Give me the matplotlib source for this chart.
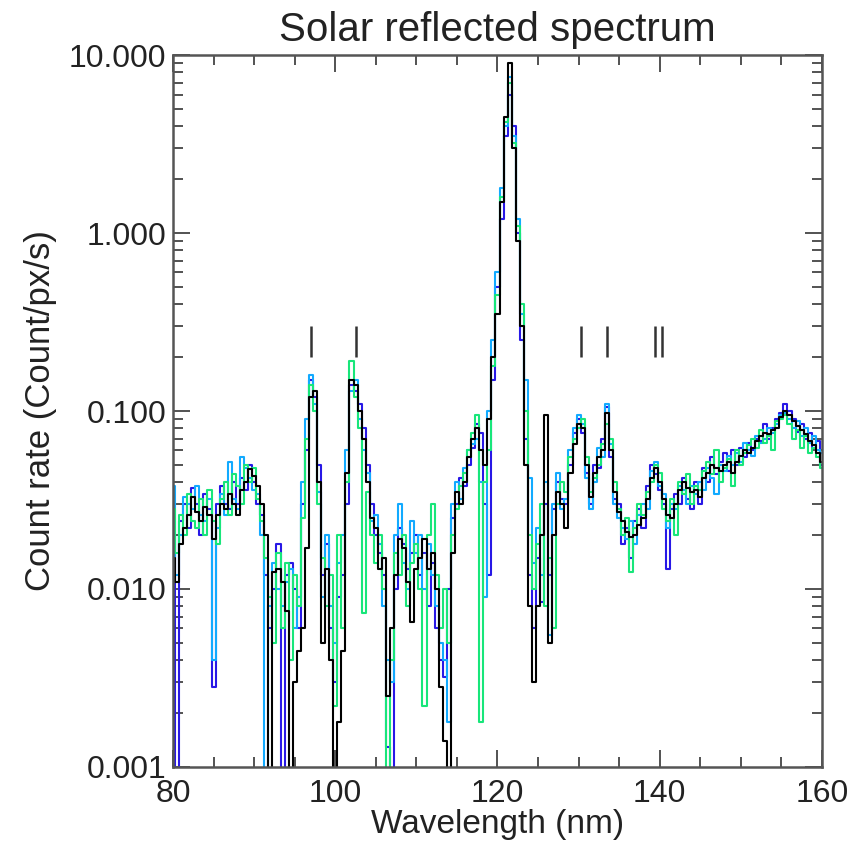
import numpy as np
import matplotlib
matplotlib.use("Agg")
import matplotlib.pyplot as plt
from matplotlib.ticker import MultipleLocator, FixedLocator, FuncFormatter, NullFormatter

plt.rcParams['font.family'] = ['Liberation Sans', 'DejaVu Sans']

# wavelength grid (nm), 0.5 nm bins
wl_start, wl_step, n_bins = 80.0, 0.5, 161
wavelength = wl_start + wl_step * np.arange(n_bins)

# count rates (Count/px/s)
black = [
    0.015, 0.011, 0.018, 0.022, 0.026, 0.033, 0.027, 0.024, 0.029, 0.026,   # 80-84.5
    0.019, 0.026, 0.030, 0.028, 0.034, 0.030, 0.026, 0.036, 0.040, 0.047,   # 85-89.5
    0.043, 0.038, 0.030, 0.020, 0.0008, 0.0125, 0.013, 0.011, 0.0075, 0.0008,  # 90-94.5
    0.003, 0.0045, 0.006, 0.017, 0.12, 0.13, 0.04, 0.005, 0.013, 0.004,     # 95-99.5
    0.0007, 0.0018, 0.0045, 0.045, 0.15, 0.14, 0.10, 0.07, 0.04, 0.025,     # 100-104.5
    0.022, 0.013, 0.015, 0.0025, 0.006, 0.012, 0.019, 0.017, 0.011, 0.0065,  # 105-109.5
    0.013, 0.015, 0.019, 0.013, 0.016, 0.010, 0.0028, 0.0014, 0.0008, 0.016,  # 110-114.5
    0.035, 0.030, 0.040, 0.055, 0.070, 0.080, 0.060, 0.050, 0.090, 0.20,    # 115-119.5
    0.35, 1.5, 4.5, 9.0, 3.0, 0.9, 0.30, 0.05, 0.008, 0.003,                # 120-124.5
    0.008, 0.020, 0.095, 0.005, 0.020, 0.035, 0.030, 0.022, 0.045, 0.065,   # 125-129.5
    0.085, 0.080, 0.050, 0.033, 0.045, 0.055, 0.060, 0.098, 0.060, 0.035,   # 130-134.5
    0.027, 0.024, 0.021, 0.0195, 0.020, 0.023, 0.025, 0.032, 0.042, 0.048,  # 135-139.5
    0.040, 0.032, 0.026, 0.025, 0.030, 0.036, 0.040, 0.037, 0.035, 0.036,   # 140-144.5
    0.033, 0.042, 0.045, 0.050, 0.048, 0.046, 0.050, 0.052, 0.045, 0.052,   # 145-149.5
    0.056, 0.060, 0.058, 0.062, 0.068, 0.072, 0.075, 0.074, 0.078, 0.080,   # 150-154.5
    0.092, 0.100, 0.095, 0.088, 0.082, 0.078, 0.074, 0.068, 0.064, 0.058,   # 155-159.5
    0.052,
]

blue = [
    0.020, 0.0006, 0.024, 0.030, 0.022, 0.037, 0.030, 0.020, 0.034, 0.028,
    0.0028, 0.030, 0.038, 0.030, 0.028, 0.040, 0.030, 0.042, 0.036, 0.050,
    0.040, 0.030, 0.026, 0.012, 0.006, 0.010, 0.018, 0.0007, 0.012, 0.014,
    0.010, 0.006, 0.030, 0.060, 0.15, 0.12, 0.05, 0.012, 0.018, 0.006,
    0.003, 0.009, 0.012, 0.030, 0.14, 0.13, 0.11, 0.08, 0.05, 0.030,
    0.020, 0.016, 0.012, 0.0013, 0.0009, 0.010, 0.022, 0.018, 0.013, 0.016,
    0.020, 0.012, 0.016, 0.008, 0.014, 0.006, 0.004, 0.0032, 0.010, 0.025,
    0.030, 0.042, 0.038, 0.050, 0.062, 0.085, 0.075, 0.030, 0.012, 0.15,
    0.50, 1.2, 3.5, 6.0, 4.0, 1.0, 0.25, 0.07, 0.012, 0.006,
    0.015, 0.0085, 0.030, 0.012, 0.028, 0.040, 0.032, 0.030, 0.050, 0.075,
    0.090, 0.075, 0.045, 0.030, 0.050, 0.048, 0.070, 0.105, 0.055, 0.032,
    0.030, 0.018, 0.022, 0.015, 0.024, 0.028, 0.022, 0.038, 0.050, 0.044,
    0.036, 0.030, 0.013, 0.028, 0.034, 0.030, 0.042, 0.032, 0.028, 0.040,
    0.030, 0.048, 0.040, 0.055, 0.044, 0.052, 0.058, 0.046, 0.060, 0.050,
    0.062, 0.055, 0.066, 0.060, 0.070, 0.068, 0.085, 0.070, 0.080, 0.090,
    0.098, 0.110, 0.100, 0.090, 0.076, 0.085, 0.070, 0.075, 0.062, 0.068,
    0.050,
]

light_blue = [
    0.038, 0.012, 0.020, 0.033, 0.030, 0.028, 0.038, 0.026, 0.024, 0.032,
    0.004, 0.022, 0.034, 0.026, 0.052, 0.032, 0.028, 0.055, 0.048, 0.042,
    0.036, 0.034, 0.020, 0.0006, 0.008, 0.014, 0.010, 0.008, 0.011, 0.013,
    0.006, 0.009, 0.040, 0.090, 0.16, 0.11, 0.035, 0.009, 0.020, 0.008,
    0.005, 0.014, 0.020, 0.060, 0.13, 0.15, 0.09, 0.06, 0.045, 0.024,
    0.026, 0.018, 0.008, 0.004, 0.003, 0.020, 0.030, 0.014, 0.010, 0.024,
    0.016, 0.020, 0.010, 0.018, 0.012, 0.008, 0.005, 0.004, 0.0018, 0.030,
    0.040, 0.032, 0.048, 0.060, 0.065, 0.070, 0.040, 0.009, 0.10, 0.25,
    0.60, 1.8, 4.0, 7.5, 3.5, 1.2, 0.35, 0.15, 0.042, 0.014,
    0.022, 0.012, 0.040, 0.0055, 0.030, 0.045, 0.028, 0.032, 0.060, 0.080,
    0.095, 0.085, 0.042, 0.028, 0.040, 0.062, 0.055, 0.11, 0.065, 0.030,
    0.025, 0.022, 0.019, 0.024, 0.018, 0.026, 0.030, 0.028, 0.046, 0.052,
    0.038, 0.034, 0.022, 0.030, 0.028, 0.038, 0.036, 0.030, 0.038, 0.034,
    0.040, 0.036, 0.048, 0.042, 0.034, 0.050, 0.046, 0.056, 0.050, 0.058,
    0.052, 0.066, 0.060, 0.056, 0.072, 0.066, 0.070, 0.080, 0.075, 0.085,
    0.095, 0.098, 0.090, 0.080, 0.088, 0.072, 0.080, 0.066, 0.072, 0.060,
    0.058,
]

green = [
    0.028, 0.016, 0.026, 0.020, 0.034, 0.024, 0.022, 0.032, 0.020, 0.036,
    0.024, 0.018, 0.032, 0.040, 0.026, 0.044, 0.038, 0.030, 0.050, 0.040,
    0.048, 0.032, 0.024, 0.015, 0.009, 0.005, 0.016, 0.006, 0.014, 0.004,
    0.012, 0.008, 0.025, 0.070, 0.14, 0.10, 0.030, 0.015, 0.008, 0.012,
    0.0022, 0.020, 0.006, 0.040, 0.19, 0.12, 0.08, 0.0073, 0.035, 0.020,
    0.014, 0.020, 0.010, 0.0006, 0.004, 0.016, 0.012, 0.020, 0.008, 0.014,
    0.018, 0.010, 0.0022, 0.020, 0.030, 0.012, 0.006, 0.010, 0.005, 0.020,
    0.028, 0.038, 0.045, 0.060, 0.075, 0.095, 0.0018, 0.040, 0.060, 0.18,
    0.45, 1.6, 4.2, 7.0, 3.2, 1.1, 0.40, 0.10, 0.020, 0.010,
    0.018, 0.030, 0.008, 0.015, 0.006, 0.030, 0.040, 0.035, 0.055, 0.070,
    0.080, 0.090, 0.055, 0.035, 0.042, 0.050, 0.065, 0.085, 0.070, 0.040,
    0.028, 0.020, 0.025, 0.0125, 0.022, 0.030, 0.026, 0.035, 0.040, 0.050,
    0.045, 0.028, 0.024, 0.032, 0.020, 0.040, 0.034, 0.044, 0.030, 0.038,
    0.036, 0.046, 0.052, 0.044, 0.060, 0.040, 0.048, 0.054, 0.038, 0.060,
    0.050, 0.058, 0.064, 0.070, 0.062, 0.078, 0.066, 0.072, 0.060, 0.088,
    0.090, 0.095, 0.085, 0.070, 0.078, 0.062, 0.072, 0.058, 0.062, 0.055,
    0.048,
]

# emission line markers
line_wl = [97.0, 102.5, 130.3, 133.5, 139.4, 140.3]
marker_lo, marker_hi = 0.2, 0.3

fig = plt.figure(figsize=(8.54, 8.49), dpi=100)
ax = fig.add_axes([0.2026, 0.0966, 0.7599, 0.8386])

series = [(blue, '#2818e6'), (light_blue, '#12aaff'), (green, '#18e67a'), (black, 'black')]
for vals, col in series:
    ax.step(wavelength, vals, where='mid', color=col, lw=1.5)

ax.vlines(line_wl, marker_lo, marker_hi, color='#333333', lw=1.8)

ax.set_yscale('log')
ax.set_xlim(80, 160)
ax.set_ylim(0.001, 10)

ax.xaxis.set_major_locator(MultipleLocator(20))
ax.xaxis.set_minor_locator(MultipleLocator(5))
ax.yaxis.set_major_locator(FixedLocator([0.001, 0.01, 0.1, 1, 10]))
ax.yaxis.set_major_formatter(FuncFormatter(lambda v, p: '%.3f' % v))
ax.yaxis.set_minor_formatter(NullFormatter())

ax.tick_params(which='both', direction='in', top=True, right=True,
               color='#444444', width=1.3, labelsize=23, labelcolor='#222222')
ax.tick_params(axis='x', which='major', length=12, pad=9)
ax.tick_params(axis='x', which='minor', length=7)
ax.tick_params(axis='y', which='major', length=12, pad=5)
ax.tick_params(axis='y', which='minor', length=7)
for s in ax.spines.values():
    s.set_color('#555555')
    s.set_linewidth(1.8)

ax.set_xlabel('Wavelength (nm)', fontsize=24, color='#222222', labelpad=0)
ax.set_ylabel('Count rate (Count/px/s)', fontsize=25, color='#222222', labelpad=8)
ax.set_title('Solar reflected spectrum', fontsize=29, color='#222222', pad=10)

fig.savefig('out.png', dpi=100)
